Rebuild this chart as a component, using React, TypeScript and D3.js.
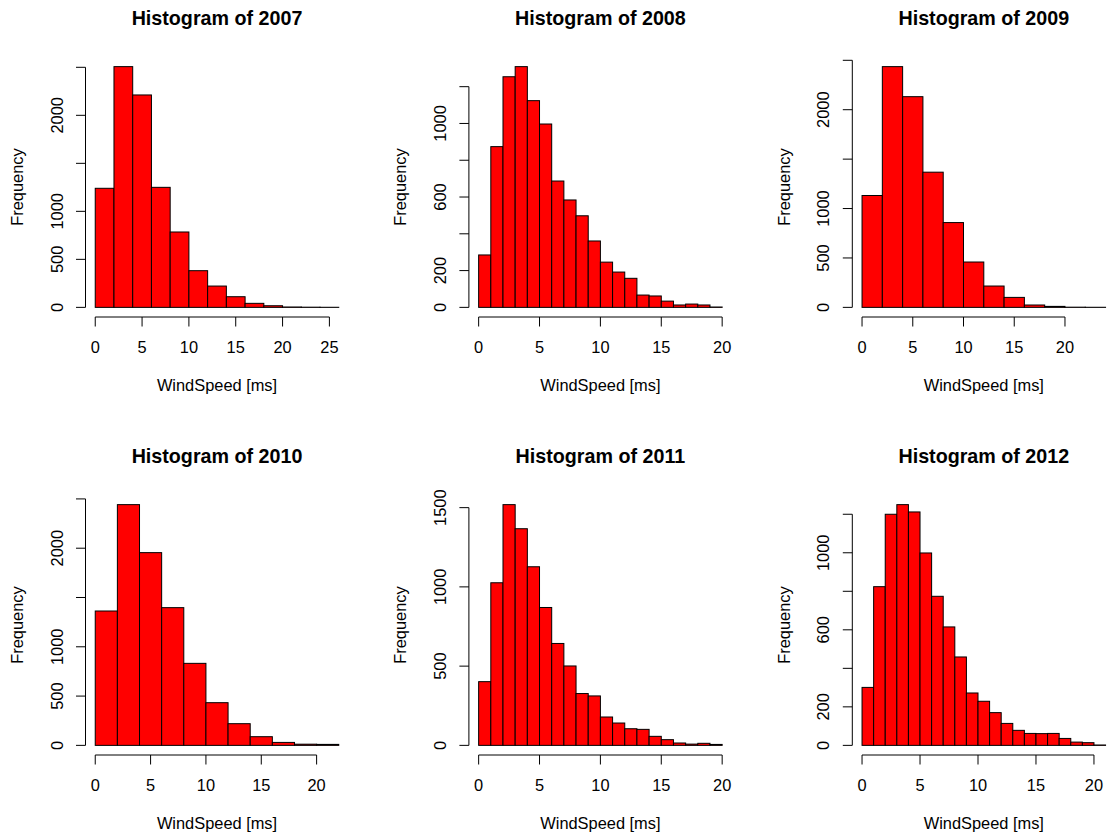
import React from 'react';
import * as d3 from 'd3';

// Wind speed histograms, one panel per year (counts per bin, bins start at 0 m/s)
const years = ['2007', '2008', '2009', '2010', '2011', '2012'];
const binWidths = [2, 1, 2, 2, 1, 1];

const counts2007 = [1240, 2507, 2212, 1250, 785, 382, 222, 111, 42, 17, 4, 2, 1];
const counts2008 = [285, 874, 1254, 1309, 1124, 997, 687, 584, 498, 361, 246, 192, 158, 67, 62, 34, 13, 18, 13, 2];
const counts2009 = [1132, 2436, 2132, 1368, 858, 459, 216, 101, 24, 10, 2, 1];
const counts2010 = [1363, 2442, 1955, 1397, 832, 433, 220, 88, 30, 12, 10];
const counts2011 = [402, 1026, 1519, 1367, 1127, 870, 643, 501, 327, 312, 179, 141, 105, 101, 57, 36, 15, 8, 13, 6];
const counts2012 = [301, 824, 1200, 1250, 1212, 999, 774, 615, 459, 272, 229, 170, 114, 78, 62, 61, 62, 36, 17, 14, 2];

const allCounts = [counts2007, counts2008, counts2009, counts2010, counts2011, counts2012];

const xLabel = 'WindSpeed [ms]';
const yLabel = 'Frequency';

const W = 1107;
const H = 834;
const colStep = 383.4;
const rowStep = 438;
const marginLeft = 85.5;
const marginTop = 57;
const plotW = 263;
const plotH = 260;
const fontSize = 16.4;
const titleSize = 19.7;
const font = "'Liberation Sans', Arial, Helvetica, sans-serif";
const tickLen = 9.5;

type PanelProps = { year: string; counts: number[]; binWidth: number; ox: number; oy: number };

function Panel({ year, counts, binWidth, ox, oy }: PanelProps) {
  const breaks = d3.range(counts.length + 1).map((i) => i * binWidth);
  const xMin = breaks[0];
  const xMax = breaks[breaks.length - 1];
  const xPad = 0.04 * (xMax - xMin);
  const left = ox + marginLeft;
  const top = oy + marginTop;
  const right = left + plotW;
  const bottom = top + plotH;
  const cx = (left + right) / 2;
  const cy = (top + bottom) / 2;

  const x = d3.scaleLinear().domain([xMin - xPad, xMax + xPad]).range([left, right]);
  const yMax = d3.max(counts) as number;
  const y = d3.scaleLinear().domain([-0.04 * yMax, 1.04 * yMax]).range([bottom, top]);

  const xTicks = x.ticks(5);
  const yTicks = y.ticks(5);

  // y labels run along the axis; skip any that would collide with the previous one
  const charW = 0.556 * fontSize;
  const gap = 0.833 * fontSize;
  let lastEdge = Infinity;
  const yLabels: number[] = [];
  yTicks.forEach((t) => {
    const half = (String(t).length * charW) / 2;
    const pos = y(t);
    if (lastEdge - (pos + half) >= gap) {
      yLabels.push(t);
      lastEdge = pos - half;
    }
  });

  return (
    <g>
      <text x={cx} y={top - 32} textAnchor="middle" fontWeight="bold" fontSize={titleSize}>
        Histogram of {year}
      </text>
      {counts.map((c, i) => (
        <rect
          key={i}
          x={x(breaks[i])}
          y={y(c)}
          width={x(breaks[i + 1]) - x(breaks[i])}
          height={y(0) - y(c)}
          fill="#ff0000"
          stroke="#000"
          strokeWidth={1}
        />
      ))}
      {/* x axis */}
      <line x1={x(xTicks[0])} x2={x(xTicks[xTicks.length - 1])} y1={bottom} y2={bottom} stroke="#000" />
      {xTicks.map((t) => (
        <g key={t}>
          <line x1={x(t)} x2={x(t)} y1={bottom} y2={bottom + tickLen} stroke="#000" />
          <text x={x(t)} y={bottom + 36} textAnchor="middle" fontSize={fontSize}>
            {t}
          </text>
        </g>
      ))}
      <text x={cx} y={bottom + 73.5} textAnchor="middle" fontSize={fontSize}>
        {xLabel}
      </text>
      {/* y axis */}
      <line x1={left} x2={left} y1={y(yTicks[0])} y2={y(yTicks[yTicks.length - 1])} stroke="#000" />
      {yTicks.map((t) => (
        <line key={t} x1={left} x2={left - tickLen} y1={y(t)} y2={y(t)} stroke="#000" />
      ))}
      {yLabels.map((t) => (
        <text
          key={t}
          transform={`translate(${left - 23},${y(t)}) rotate(-90)`}
          textAnchor="middle"
          fontSize={fontSize}
        >
          {t}
        </text>
      ))}
      <text transform={`translate(${left - 62.5},${cy}) rotate(-90)`} textAnchor="middle" fontSize={fontSize}>
        {yLabel}
      </text>
    </g>
  );
}

export default function App() {
  return (
    <svg
      width={W}
      height={H}
      style={{ position: 'absolute', left: 0, top: 0, background: '#fff' }}
      fontFamily={font}
      fill="#000"
    >
      <rect x={0} y={0} width={W} height={H} fill="#fff" />
      {years.map((yr, i) => (
        <Panel
          key={yr}
          year={yr}
          counts={allCounts[i]}
          binWidth={binWidths[i]}
          ox={(i % 3) * colStep}
          oy={Math.floor(i / 3) * rowStep}
        />
      ))}
    </svg>
  );
}
